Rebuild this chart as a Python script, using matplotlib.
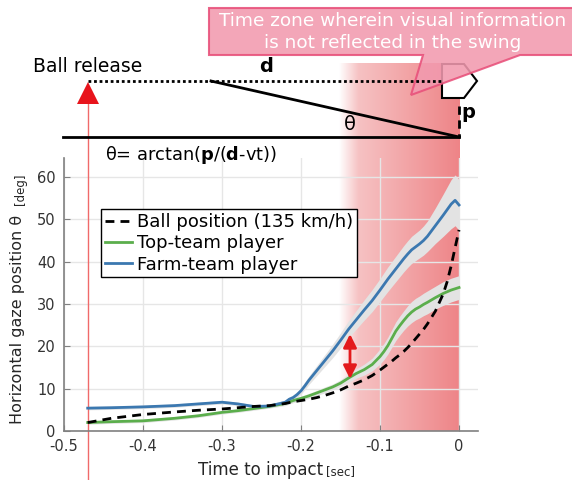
import numpy as np
import matplotlib.pyplot as plt
from matplotlib.colors import LinearSegmentedColormap
from matplotlib.patches import Polygon

plt.rcParams['font.family'] = ['DejaVu Sans']
plt.rcParams['mathtext.fontset'] = 'dejavusans'

# --- data ---
t = [-0.47, -0.44, -0.40, -0.36, -0.33, -0.30, -0.28, -0.26, -0.24, -0.22,
     -0.215, -0.21, -0.205, -0.20, -0.195, -0.19, -0.18, -0.17, -0.16, -0.15,
     -0.14, -0.13, -0.12, -0.11, -0.10, -0.095, -0.09, -0.085, -0.08, -0.075,
     -0.07, -0.065, -0.06, -0.055, -0.05, -0.045, -0.04, -0.03, -0.02, -0.015,
     -0.01, -0.005, 0.0]

ball = [2.0, 3.0, 3.9, 4.5, 4.9, 5.2, 5.5, 5.8, 6.0, 6.5,
        6.7, 6.9, 7.05, 7.2, 7.35, 7.5, 7.9, 8.4, 9.0, 9.7,
        10.6, 11.3, 12.1, 13.1, 14.4, 15.1, 15.8, 16.5, 17.3, 18.0,
        18.8, 19.7, 20.7, 21.8, 22.9, 24.0, 25.3, 28.3, 32.4, 35.3,
        39.0, 43.3, 47.5]

top_team = [2.0, 2.2, 2.4, 3.0, 3.6, 4.4, 4.8, 5.3, 5.8, 6.5,
            6.85, 7.2, 7.45, 7.7, 8.0, 8.3, 9.0, 9.7, 10.4, 11.3,
            12.5, 13.6, 14.5, 15.7, 17.6, 18.8, 20.2, 21.9, 23.6, 24.9,
            26.1, 27.2, 28.1, 28.8, 29.3, 29.9, 30.4, 31.5, 32.5, 32.9,
            33.3, 33.6, 33.9]
top_sd = [0.4, 0.4, 0.4, 0.4, 0.4, 0.4, 0.4, 0.4, 0.4, 0.5,
          0.5, 0.5, 0.5, 0.5, 0.55, 0.6, 0.6, 0.7, 0.7, 0.8,
          1.0, 1.1, 1.3, 1.5, 1.8, 1.9, 2.0, 2.1, 2.2, 2.25,
          2.3, 2.4, 2.5, 2.55, 2.6, 2.65, 2.7, 2.7, 2.8, 2.8,
          2.8, 2.8, 2.8]

farm_team = [5.4, 5.5, 5.7, 6.0, 6.4, 6.8, 6.4, 5.8, 5.9, 6.8,
             7.5, 7.9, 8.6, 9.5, 10.7, 12.0, 14.3, 16.6, 18.9, 21.4,
             24.0, 26.3, 28.6, 30.8, 33.3, 34.6, 35.9, 37.1, 38.3, 39.5,
             40.7, 41.8, 42.8, 43.5, 44.2, 45.0, 46.0, 48.5, 51.0, 52.3,
             53.6, 54.5, 53.4]
farm_sd = [0.4, 0.4, 0.4, 0.4, 0.4, 0.4, 0.4, 0.4, 0.4, 0.5,
           0.55, 0.6, 0.7, 0.8, 0.9, 1.0, 1.2, 1.4, 1.6, 1.8,
           2.0, 2.2, 2.4, 2.6, 2.7, 2.8, 2.9, 2.95, 3.0, 3.05,
           3.1, 3.15, 3.2, 3.25, 3.3, 3.45, 3.6, 4.2, 5.0, 5.4,
           5.8, 6.0, 6.0]

release_t = -0.47
zone_start = -0.152
gap_t, gap_lo, gap_hi = -0.138, 12.3, 22.9

labels = ['Ball position (135 km/h)', 'Top-team player', 'Farm-team player']

t = np.array(t)
top_team, top_sd = np.array(top_team), np.array(top_sd)
farm_team, farm_sd = np.array(farm_team), np.array(farm_sd)

fig = plt.figure(figsize=(5.72, 4.8), dpi=100)
ax = fig.add_axes([64 / 572, 49 / 480, 414 / 572, 273 / 480])

# red time zone (fades in from white)
cmap = LinearSegmentedColormap.from_list(
    'zone', [(0.0, '#FFFFFF'), (0.16, '#F6C2C3'), (1.0, '#EE8487')])
grad = np.linspace(0, 1, 256).reshape(1, -1)
ax.imshow(grad, cmap=cmap, extent=(zone_start, 0, 0, 86.9), aspect='auto',
          clip_on=False, zorder=0, interpolation='bilinear')

ax.fill_between(t, farm_team - farm_sd, farm_team + farm_sd, color='#E3E3E3', lw=0, zorder=1)
ax.fill_between(t, top_team - top_sd, top_team + top_sd, color='#E3E3E3', lw=0, zorder=1)
l_top, = ax.plot(t, top_team, color='#5BAE4C', lw=2, zorder=2)
l_farm, = ax.plot(t, farm_team, color='#3B78B0', lw=2, zorder=2)
l_ball, = ax.plot(t, ball, color='black', lw=2, ls=(0, (3.2, 2.2)), zorder=3)

ax.annotate('', xy=(gap_t, gap_lo), xytext=(gap_t, gap_hi),
            arrowprops=dict(arrowstyle='<|-|>', color='#E31A1C', lw=2, mutation_scale=20,
                            shrinkA=0, shrinkB=0), zorder=4)

# ball release line
ax.plot([release_t, release_t], [-12, 78], color='#F06A6A', lw=1, clip_on=False, zorder=1)

ax.set_xlim(-0.5, 0.024)
ax.set_ylim(0, 64.5)
ax.set_xticks(np.arange(-0.5, 0.01, 0.1))
ax.set_xticklabels(['-0.5', '-0.4', '-0.3', '-0.2', '-0.1', '0'])
ax.set_yticks(range(0, 61, 10))
ax.set_axisbelow(True)
ax.grid(True, color='#E6E6E6', lw=1)
ax.patch.set_alpha(0)
for s in ['top', 'right']:
    ax.spines[s].set_visible(False)
for s in ['left', 'bottom']:
    ax.spines[s].set_color('#808080')
    ax.spines[s].set_linewidth(1.2)
ax.tick_params(direction='in', length=4, color='#808080', labelsize=10.5,
               labelcolor='#333333', pad=6)

leg = ax.legend([l_ball, l_top, l_farm], labels, loc='upper left',
                bbox_to_anchor=(0.089, 0.813), fontsize=13, frameon=True,
                fancybox=False, edgecolor='black', framealpha=1,
                handlelength=1.5, handletextpad=0.3, labelspacing=0.18,
                borderpad=0.22, borderaxespad=0)
leg.get_frame().set_linewidth(1)

# --- schematic overlay in pixel coordinates ---
ov = fig.add_axes([0, 0, 1, 1])
ov.set_xlim(0, 572)
ov.set_ylim(480, 0)
ov.axis('off')

ov.add_patch(Polygon([(77, 104), (99, 104), (88, 82)], closed=True,
                     facecolor='#E8141C', edgecolor='none'))
ov.plot([88, 442], [81, 81], color='black', lw=2, ls=(0, (1, 1)))
ov.plot([211, 459], [81, 137], color='black', lw=2)
ov.plot([63, 459], [137, 137], color='black', lw=2)
ov.plot([459, 459], [106, 137], color='black', lw=2, ls=(0, (3, 2)))
ov.add_patch(Polygon([(442, 64), (464, 64), (477, 81), (464, 98), (442, 98)],
                     closed=True, facecolor='white', edgecolor='black', lw=1.5))

ov.text(33, 67, 'Ball release', fontsize=13.5, ha='left', va='center')
ov.text(266, 67, 'd', fontsize=14, fontweight='bold', ha='center', va='center')
ov.text(350, 124, 'θ', fontsize=14, ha='center', va='center')
ov.text(461, 113, 'p', fontsize=14, fontweight='bold', ha='left', va='center')
ov.text(105, 155, r'θ= arctan($\mathbf{p}$/($\mathbf{d}$-vt))', fontsize=12.8,
        ha='left', va='center')

# callout
ov.add_patch(Polygon([(209, 8), (580, 8), (580, 55), (520, 55), (411, 95), (423, 55), (209, 55)],
                     closed=True, facecolor='#F29AAF', edgecolor='#E8507A', lw=1.5,
                     alpha=0.88, clip_on=False))
ov.text(393, 21, 'Time zone wherein visual information', color='white',
        fontsize=13.3, ha='center', va='center')
ov.text(393, 43, 'is not reflected in the swing', color='white',
        fontsize=13.3, ha='center', va='center')

# axis labels with small units
ov.text(261, 475, 'Time to impact', fontsize=12, ha='center', va='baseline', color='#262626')
ov.text(326, 475, '[sec]', fontsize=8.5, ha='left', va='baseline', color='#262626')
ov.text(18, 424, 'Horizontal gaze position θ', fontsize=11.5, rotation=90,
        ha='center', va='bottom', color='#262626')
ov.text(20, 205, '[deg]', fontsize=8.5, rotation=90, ha='center', va='bottom', color='#262626')

fig.savefig('out.png', dpi=100)
